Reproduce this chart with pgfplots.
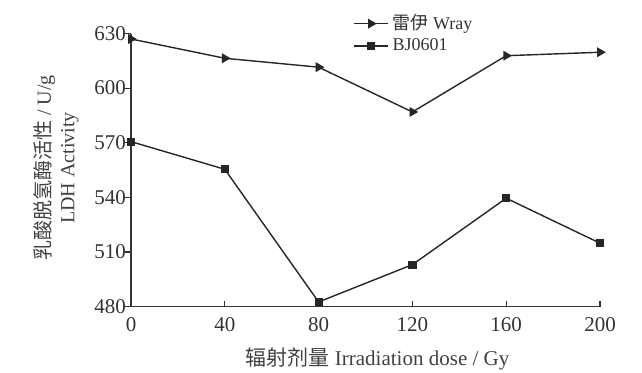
\documentclass[border=0pt]{standalone}
\usepackage{pgfplots}
\pgfplotsset{compat=1.18}
\usepackage{fontspec}
\setmainfont{Liberation Serif}
\newfontfamily\cjk{Noto Sans CJK SC}

\begin{document}
\begin{tikzpicture}
\begin{axis}[
  scale only axis,
  width=234.5pt, height=136.5pt,
  xmin=0, xmax=200, ymin=480, ymax=630,
  xtick={0,40,80,120,160,200},
  ytick={480,510,540,570,600,630},
  axis x line*=bottom, axis y line*=left,
  axis line style={black!80, line width=0.8pt},
  tick align=inside,
  major tick length=3pt,
  tick style={black!80, line width=0.6pt},
  ytick style={xshift=-3pt},
  /pgf/number format/assume math mode=true,
  tick label style={font=\fontsize{10.5}{11}\selectfont, text=black!80},
  xticklabel style={yshift=-2pt},
  yticklabel style={xshift=1pt},
  clip=false,
  xlabel={{\cjk 辐射剂量} Irradiation dose / Gy},
  xlabel style={font=\fontsize{10.5}{11}\selectfont, text=black!75, yshift=-1pt, xshift=6pt},
  ylabel={\shortstack{{\cjk 乳酸脱氢酶活性} / U/g\\LDH Activity}},
  ylabel style={font=\fontsize{10}{10.5}\selectfont, text=black!75, yshift=1pt, xshift=1pt},
  legend style={draw=none, fill=none, at={(0.46,1.10)}, anchor=north west,
    font=\fontsize{9}{9.5}\selectfont, row sep=-1pt, text=black!80},
  legend cell align=left,
  every axis plot/.append style={black!85, line width=0.7pt},
]
\addplot[mark=triangle*, mark options={rotate=-90, scale=1.1}] coordinates {
  (0,627) (40,616.4) (80,611.5) (120,586.9) (160,617.8) (200,619.7)
};
\addlegendentry{{\cjk 雷伊} Wray}
\addplot[mark=square*, mark size=1.7pt] coordinates {
  (0,570.6) (40,555.4) (80,482.5) (120,503) (160,539.5) (200,514.8)
};
\addlegendentry{BJ0601}
\end{axis}
\pgfresetboundingbox
\path[use as bounding box] (-65.5pt,-32.75pt) rectangle (255.5pt,153.25pt);
\end{tikzpicture}
\end{document}
